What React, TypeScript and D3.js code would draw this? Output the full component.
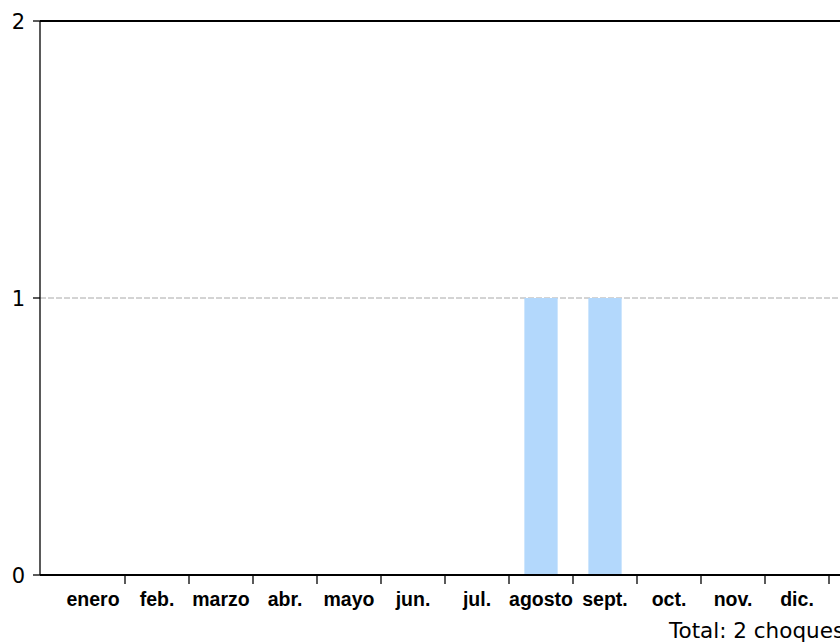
import React from "react";
import * as d3 from "d3";

const months = ["enero", "feb.", "marzo", "abr.", "mayo", "jun.", "jul.", "agosto", "sept.", "oct.", "nov.", "dic."];
const counts = [0, 0, 0, 0, 0, 0, 0, 1, 1, 0, 0, 0];
const yTicks = [0, 1, 2];
const gridValues = [1];
const totalLabel = "Total: 2 choques";

export default function App() {
  const W = 840, H = 643;
  const left = 40, right = 840, top = 21, bottom = 575;
  const x = d3.scaleBand<string>().domain(months).range([61, 829]).paddingInner(0).paddingOuter(0);
  const y = d3.scaleLinear().domain([0, 2]).range([bottom, top]);
  const step = x.step();
  const bw = step * 0.52;
  const tickFont = "'DejaVu Sans', sans-serif";
  return (
    <svg width={W} height={H} style={{ position: "absolute", left: 0, top: 0, background: "#fff" }}>
      {gridValues.map((v) => (
        <line key={v} x1={left} x2={right} y1={y(v)} y2={y(v)} stroke="#a8a8a8" strokeWidth={1} strokeDasharray="6,2" />
      ))}
      {months.map((m, i) => (
        <rect key={m} x={(x(m) as number) + (step - bw) / 2} y={y(counts[i])} width={bw} height={bottom - y(counts[i])} fill="#b3d8fc" />
      ))}
      <line x1={left} x2={right} y1={top} y2={top} stroke="#000" strokeWidth={1.8} />
      <line x1={left} x2={left} y1={top} y2={bottom} stroke="#000" strokeWidth={1.3} />
      <line x1={left} x2={right} y1={bottom} y2={bottom} stroke="#000" strokeWidth={1.8} />
      {yTicks.map((t) => (
        <g key={t}>
          <line x1={33} x2={left} y1={y(t)} y2={y(t)} stroke="#000" strokeWidth={1.3} />
          <text x={25} y={y(t)} dy="0.36em" textAnchor="end" fontFamily={tickFont} fontSize={21} fill="#000">{t}</text>
        </g>
      ))}
      {months.map((m) => (
        <g key={m}>
          <line x1={(x(m) as number) + step} x2={(x(m) as number) + step} y1={bottom} y2={bottom + 9} stroke="#000" strokeWidth={1.3} />
          <text x={(x(m) as number) + step / 2} y={606} textAnchor="middle" fontFamily="'Liberation Sans', Arial, sans-serif" fontWeight="bold" fontSize={19.5} fill="#000">{m}</text>
        </g>
      ))}
      <text x={669} y={638} fontFamily={tickFont} fontSize={21.5} fill="#000">{totalLabel}</text>
    </svg>
  );
}
